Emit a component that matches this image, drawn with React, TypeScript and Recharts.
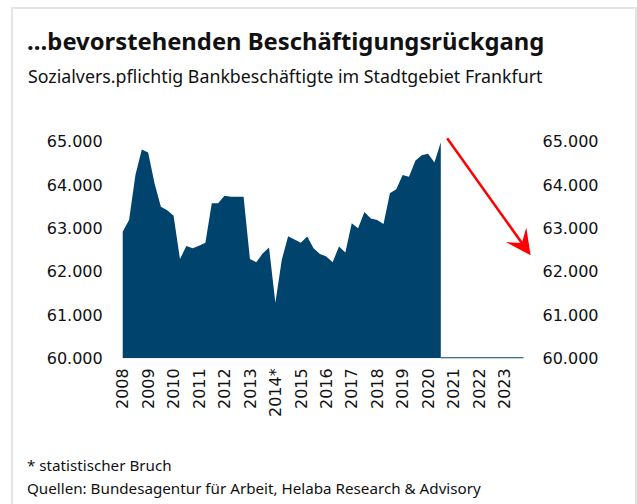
import React from "react"
import { ComposedChart, Area, Line, XAxis, YAxis, ReferenceLine } from "recharts"

// quarterly values, 2008 Q1 .. 2020 Q3
const employees = [
    62920, 63190, 64230, 64820, 64750, 64040, 63500, 63420, 63290, 62290,
    62590, 62540, 62600, 62670, 63580, 63580, 63750, 63730, 63730, 63730,
    62290, 62220, 62420, 62560, 61280, 62270, 62820, 62740, 62670, 62810,
    62540, 62410, 62350, 62220, 62580, 62440, 63120, 63000, 63380, 63230,
    63190, 63100, 63810, 63900, 64230, 64190, 64560, 64690, 64720, 64520,
    64990,
]
const years = [2008, 2009, 2010, 2011, 2012, 2013, 2014, 2015, 2016, 2017, 2018, 2019, 2020, 2021, 2022, 2023]
const yTicks = [60000, 61000, 62000, 63000, 64000, 65000]
const totalQuarters = 64
const breakYear = 2014
const arrowFrom = { x: 2020.75, y: 65080 }
const arrowTo = { x: 2024.03, y: 62380 }

const data = Array.from({ length: totalQuarters }, (_, i) => ({
    t: 2008 + i * 0.25,
    value: i < employees.length ? employees[i] : null,
    flat: i >= employees.length - 1 ? 60000 : null,
}))

const BLUE = "#00446e"
const fmt = (v: number) => String(v).replace(/\B(?=(\d{3})+(?!\d))/g, ".")

const YearTick = (props: any) => {
    const { x, y, payload } = props
    const label = payload.value === breakYear ? `${payload.value}*` : String(payload.value)
    return (
        <text x={x} y={y} dy="0.36em" transform={`rotate(-90, ${x}, ${y})`} textAnchor="end"
            fontFamily="DejaVu Sans" fontSize={16} fill="#111">
            {label}
        </text>
    )
}

const Arrow = (props: any) => {
    const { x1, y1, x2, y2 } = props
    const a = Math.atan2(y2 - y1, x2 - x1)
    const ux = Math.cos(a), uy = Math.sin(a)
    const px = -uy, py = ux
    const len = 25, half = 12.5, notch = 15
    const bx = x2 - ux * len, by = y2 - uy * len
    const nx = x2 - ux * notch, ny = y2 - uy * notch
    const pts = `${x2},${y2} ${bx + px * half},${by + py * half} ${nx},${ny} ${bx - px * half},${by - py * half}`
    return (
        <g>
            <line x1={x1} y1={y1} x2={nx} y2={ny} stroke="#ff0000" strokeWidth={2.5} />
            <polygon points={pts} fill="#ff0000" />
        </g>
    )
}

export default function App() {
    return (
        <div style={{ position: "absolute", left: 0, top: 0, width: 637, height: 504, background: "#fff", overflow: "hidden", fontFamily: "'Noto Sans', sans-serif", color: "#111" }}>
            <div style={{ position: "absolute", left: 11, top: 7, width: 622, height: 520, border: "2px solid #e4e4e4" }} />
            <div style={{ position: "absolute", left: 27, top: 29.5, fontSize: 23.8, lineHeight: "23.8px", fontWeight: 700, whiteSpace: "nowrap" }}>
                …bevorstehenden Beschäftigungsrückgang
            </div>
            <div style={{ position: "absolute", left: 28, top: 68, fontSize: 17.8, lineHeight: "17.8px", whiteSpace: "nowrap" }}>
                Sozialvers.pflichtig Bankbeschäftigte im Stadtgebiet Frankfurt
            </div>
            <div style={{ position: "absolute", left: 27, top: 457.5, fontSize: 15.2, lineHeight: "15.2px", whiteSpace: "nowrap" }}>
                * statistischer Bruch
            </div>
            <div style={{ position: "absolute", left: 27, top: 480.5, fontSize: 15.2, lineHeight: "15.2px", whiteSpace: "nowrap" }}>
                Quellen: Bundesagentur für Arbeit, Helaba Research &amp; Advisory
            </div>
            <div style={{ position: "absolute", left: 0, top: 0 }}>
                <ComposedChart width={637} height={504} data={data}
                    margin={{ top: 141.7, right: 33.5, left: 52.7, bottom: 85.7 }}>
                    <XAxis dataKey="t" type="number" domain={[2008, 2023.75]} ticks={years} interval={0}
                        axisLine={false} tickLine={false} tickMargin={4} height={60} tick={<YearTick />} />
                    <YAxis yAxisId="left" orientation="left" domain={[60000, 65000]} ticks={yTicks}
                        allowDataOverflow width={70} axisLine={false} tickLine={false} tickMargin={14}
                        tickFormatter={fmt} tick={{ fontFamily: "DejaVu Sans", fontSize: 16, fill: "#111" }} />
                    <YAxis yAxisId="right" orientation="right" domain={[60000, 65000]} ticks={yTicks}
                        allowDataOverflow width={80} axisLine={false} tickLine={false} tickMargin={13}
                        tickFormatter={fmt} tick={{ fontFamily: "DejaVu Sans", fontSize: 16, fill: "#111", textAnchor: "start" }} />
                    <Area yAxisId="left" type="linear" dataKey="value" stroke="none" fill={BLUE} fillOpacity={1}
                        isAnimationActive={false} dot={false} activeDot={false} />
                    <Line yAxisId="right" type="linear" dataKey="flat" stroke={BLUE} strokeWidth={2}
                        dot={false} activeDot={false} isAnimationActive={false} />
                    <ReferenceLine yAxisId="left" segment={[arrowFrom, arrowTo]} ifOverflow="visible" shape={<Arrow />} />
                </ComposedChart>
            </div>
        </div>
    )
}
